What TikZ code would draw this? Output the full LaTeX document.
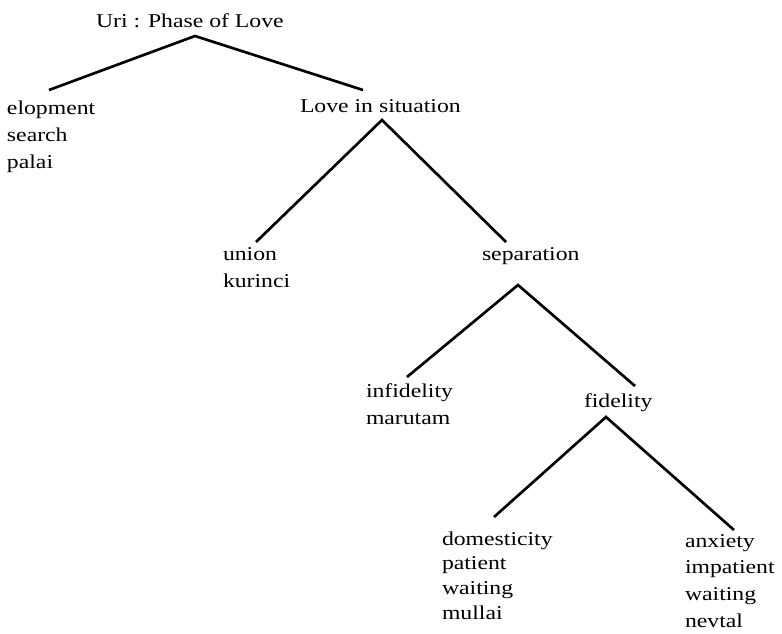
\documentclass[tikz,border=0pt]{standalone}
\usepackage{fontspec}
\setmainfont{Liberation Serif}[FakeStretch=1.21]
\begin{document}
\begin{tikzpicture}[x=0.75pt,y=-0.75pt,
  lbl/.style={anchor=base west,inner sep=0pt,outer sep=0pt,align=left,
    font=\fontsize{14.7pt}{19.9pt}\selectfont},
  tight/.style={font=\fontsize{14.7pt}{18.4pt}\selectfont},
  edge/.style={line width=2pt,line cap=butt,line join=miter}]
\useasboundingbox (0,0) rectangle (782,633);
% texts (multi-line nodes: base anchor = last line baseline)
\node[lbl] (root) at (96,27) {Uri : Phase of Love};
\node[lbl] (elop) at (7,168) {elopment\\search\\palai};
\node[lbl] (love) at (300,112) {Love in situation};
\node[lbl] (union) at (223,287) {union\\kurinci};
\node[lbl] (sep) at (482,260) {separation};
\node[lbl] (infid) at (366,424) {infidelity\\marutam};
\node[lbl] (fid) at (584,407) {fidelity};
\node[lbl,tight] (dom) at (442,619) {domesticity\\patient\\waiting\\mullai};
\node[lbl] (anx) at (685,627) {anxiety\\impatient\\waiting\\nevtal};
% connector points
\coordinate (rootA) at (195,36);
\coordinate (elopT) at (49,90);
\coordinate (loveT) at (363,90);
\coordinate (loveA) at (382,120);
\coordinate (unionT) at (256,242);
\coordinate (sepT) at (506,242);
\coordinate (sepA) at (518,285);
\coordinate (infidT) at (407,377);
\coordinate (fidT) at (635,386);
\coordinate (fidA) at (606,417);
\coordinate (domT) at (494,517);
\coordinate (anxT) at (734,530);
% connectors
\draw[edge] (elopT) -- (rootA) -- (loveT);
\draw[edge] (unionT) -- (loveA) -- (sepT);
\draw[edge] (infidT) -- (sepA) -- (fidT);
\draw[edge] (domT) -- (fidA) -- (anxT);
\end{tikzpicture}
\end{document}
